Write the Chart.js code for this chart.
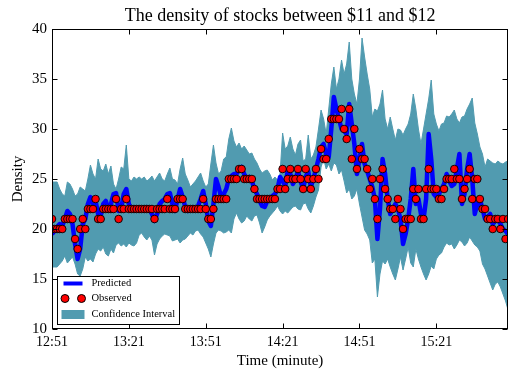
<!DOCTYPE html>
<html>
<head>
<meta charset="utf-8">
<script src="https://cdn.jsdelivr.net/npm/chart.js@4/dist/chart.umd.min.js"></script>
<style>
  html, body { margin: 0; padding: 0; background: #fff; }
  #wrap { width: 513px; height: 374px; position: relative; }
</style>
</head>
<body>
<div id="wrap"><canvas id="chart" width="513" height="374"></canvas></div>
<script>
// Minutes after 12:51 at which the x-axis carries a labelled tick
const xTickMinutes = [0, 30, 60, 90, 120, 150];
const xTickLabels = ['12:51', '13:21', '13:51', '14:21', '14:51', '15:21'];
const yTicks = [10, 15, 20, 25, 30, 35, 40];
const chartTitle = 'The density of stocks between $11 and $12';

// Observed density, one value per minute from 12:51
const observed = [
  21,20,20,20,20,21,21,21,21,19,
  18,20,21,20,22,22,22,23,21,21,
  22,22,22,22,22,23,21,22,22,23,
  22,22,22,22,22,22,22,22,22,22,
  21,22,22,22,22,23,22,22,22,23,
  23,23,22,22,22,22,22,22,22,23,
  22,21,21,22,23,23,23,23,23,25,
  25,25,25,26,26,25,25,25,25,24,
  23,23,23,23,23,23,23,23,24,24,
  26,24,25,26,25,25,26,25,24,26,
  25,24,25,26,25,28,27,27,29,31,
  31,31,31,32,30,29,32,27,30,26,
  28,27,27,26,24,25,23,21,25,26,
  24,23,22,22,21,23,22,20,21,21,
  21,24,23,24,21,21,24,26,24,24,
  24,23,23,24,25,25,25,26,25,25,
  23,24,25,26,23,25,25,23,22,22,
  21,21,20,21,21,20,21,19,21
];

// Model prediction
const predicted = [
  19.5,19.8,20.2,20.5,20.3,21.0,21.8,21.5,20.5,18.5,
  17.0,18.0,20.5,21.0,22.5,23.2,22.5,22.8,21.5,21.3,
  22.5,22.8,22.0,22.5,23.5,23.6,21.8,22.0,23.5,24.0,
  22.5,22.0,22.0,22.0,22.0,22.0,22.0,22.2,22.0,21.5,
  20.8,21.5,22.5,22.8,23.0,23.5,23.6,22.5,21.8,23.0,
  24.0,23.2,22.2,21.8,22.0,22.2,22.0,22.3,23.0,23.8,
  22.5,20.8,20.3,22.5,25.0,24.2,23.2,23.5,24.0,25.0,
  25.3,25.5,25.5,26.0,26.2,25.5,25.0,25.2,24.8,24.0,
  23.5,22.8,22.3,22.2,22.8,23.0,23.3,23.5,24.0,25.2,
  24.8,24.3,25.8,25.5,24.5,25.0,25.8,24.8,24.0,25.2,
  25.8,24.2,25.0,26.0,27.0,28.2,28.5,27.5,27.2,30.0,
  33.2,32.0,31.0,30.0,29.8,29.5,32.5,30.5,28.5,25.5,
  27.0,28.5,26.5,25.8,25.0,24.2,23.0,19.0,22.0,27.0,
  25.5,23.0,21.5,22.0,22.5,22.0,21.0,18.5,19.5,21.0,
  23.0,26.0,22.5,23.0,21.5,21.0,23.0,29.5,27.0,23.5,
  23.2,23.5,24.0,24.5,25.5,24.8,24.3,24.5,26.0,27.5,
  22.5,23.5,26.0,27.5,25.0,21.5,22.5,23.0,22.0,21.0,
  21.2,21.5,20.5,20.8,21.0,20.5,20.0,19.8,19.5
];

// Confidence interval bounds
const ciUpper = [
  24.7,24.7,24.7,24.0,23.5,23.3,24.7,24.5,24.0,23.3,
  23.5,24.2,24.0,23.8,25.0,26.4,25.5,25.0,27.0,26.0,
  25.8,26.5,25.5,26.3,24.5,24.0,25.0,26.2,26.0,28.4,
  25.0,24.8,25.2,25.0,25.2,25.0,25.2,24.8,25.0,25.3,
  24.8,25.2,25.6,25.0,24.8,25.5,26.1,25.0,24.9,24.5,
  26.0,27.1,25.5,24.9,24.2,24.5,24.8,25.2,25.6,24.8,
  24.2,24.5,26.5,28.4,26.6,25.5,25.8,27.0,27.2,29.0,
  30.1,28.8,28.2,28.6,28.0,28.3,27.9,27.5,27.6,27.0,
  26.6,26.0,25.6,25.8,25.9,25.5,24.9,25.2,24.9,25.5,
  29.6,28.0,28.3,29.2,28.0,27.4,28.5,28.9,26.8,27.0,
  29.4,27.0,27.4,28.2,30.0,31.9,31.0,29.5,32.0,34.5,
  36.2,34.0,35.0,36.9,35.5,36.5,38.7,35.0,33.5,32.5,
  35.0,39.1,37.2,35.5,34.0,31.2,32.0,31.8,32.5,33.9,
  31.0,30.0,31.2,30.0,28.9,30.0,29.9,29.4,30.0,30.5,
  31.5,33.5,32.0,30.0,28.5,30.0,31.5,33.0,34.9,31.5,
  30.5,29.8,30.5,30.6,31.3,31.2,31.5,31.9,31.0,30.6,
  31.2,31.3,32.0,32.5,33.1,30.6,29.5,28.2,27.5,26.2,
  27.0,26.8,26.6,26.5,26.8,26.6,26.5,26.7,26.8
];
const ciLower = [
  16.2,16.2,16.2,16.5,16.8,17.3,16.6,16.9,17.2,16.5,
  15.5,15.3,16.0,17.2,16.8,17.0,16.7,17.5,18.0,17.8,
  18.2,17.5,17.3,18.0,17.6,18.4,18.6,18.3,18.5,18.2,
  18.6,18.4,18.3,18.6,19.4,19.6,19.2,18.9,19.3,18.9,
  17.4,18.5,19.0,19.3,19.5,19.4,19.3,18.8,18.9,19.0,
  18.6,18.9,19.0,19.3,19.6,19.4,19.8,19.9,19.5,19.2,
  18.6,18.0,17.2,18.5,19.6,19.9,19.8,19.6,19.7,19.9,
  19.6,21.0,21.6,21.0,20.6,20.8,21.3,21.0,20.8,21.3,
  21.4,20.6,19.6,20.2,20.9,21.3,21.6,21.9,22.3,21.8,
  21.5,21.8,21.6,21.9,22.2,22.3,22.0,21.9,22.5,22.6,
  22.0,21.6,22.3,23.2,23.9,26.2,27.0,26.0,26.5,25.8,
  26.6,26.4,25.5,25.9,24.8,23.6,24.0,23.0,23.3,24.0,
  22.5,21.2,19.9,19.5,18.9,16.6,17.0,13.2,15.5,16.8,
  16.5,17.0,16.2,15.5,14.9,16.0,17.2,15.9,17.0,18.2,
  16.6,16.2,18.0,17.0,16.2,15.5,14.9,15.5,16.3,16.0,
  17.0,17.4,17.6,18.2,18.6,18.4,18.5,18.0,18.4,18.9,
  18.7,18.3,18.6,19.2,18.8,18.4,18.2,17.8,16.5,16.0,
  15.3,14.6,13.9,14.5,14.7,14.2,13.5,12.8,11.9
];

const SERIF = '"Liberation Serif", "DejaVu Serif", "Times New Roman", serif';
const CI_COLOR = '#519bb0';
const toXY = arr => arr.map((v, i) => ({ x: i, y: v }));

// Title centred over the plotting area
const plotTitlePlugin = {
  id: 'plotTitle',
  afterDraw(chart) {
    const { ctx, chartArea } = chart;
    ctx.save();
    ctx.font = '18px ' + SERIF;
    ctx.fillStyle = '#000';
    ctx.textAlign = 'center';
    ctx.textBaseline = 'alphabetic';
    ctx.fillText(chartTitle, (chartArea.left + chartArea.right) / 2, chartArea.top - 8);
    ctx.restore();
  }
};

// Frame with inward-pointing ticks on all four sides
const framePlugin = {
  id: 'frame',
  afterDatasetsDraw(chart) {
    const { ctx, chartArea, scales } = chart;
    const L = Math.round(chartArea.left) + 0.5, R = Math.round(chartArea.right) - 0.5;
    const T = Math.round(chartArea.top) + 0.5, B = Math.round(chartArea.bottom) - 0.5;
    const len = 5;
    ctx.save();
    ctx.strokeStyle = '#000';
    ctx.lineWidth = 1;
    ctx.beginPath();
    xTickMinutes.forEach(m => {
      const px = Math.round(scales.x.getPixelForValue(m)) + 0.5;
      ctx.moveTo(px, B); ctx.lineTo(px, B - len);
      ctx.moveTo(px, T); ctx.lineTo(px, T + len);
    });
    yTicks.forEach(v => {
      const py = Math.round(scales.y.getPixelForValue(v)) + 0.5;
      ctx.moveTo(L, py); ctx.lineTo(L + len, py);
      ctx.moveTo(R, py); ctx.lineTo(R - len, py);
    });
    ctx.stroke();
    ctx.strokeRect(L, T, R - L, B - T);
    ctx.restore();
  }
};

// Boxed legend in the lower-left corner of the plot
const boxLegendPlugin = {
  id: 'boxLegend',
  afterDraw(chart) {
    const { ctx, chartArea } = chart;
    const ds = chart.data.datasets;
    const x0 = Math.round(chartArea.left) + 5.5;
    const y0 = Math.round(chartArea.bottom) - 52.5;
    const w = 122, h = 48;
    ctx.save();
    ctx.fillStyle = '#fff';
    ctx.fillRect(x0, y0, w, h);
    ctx.strokeStyle = '#000';
    ctx.lineWidth = 1;
    ctx.strokeRect(x0, y0, w, h);

    ctx.font = '10.5px ' + SERIF;
    ctx.fillStyle = '#000';
    ctx.textBaseline = 'middle';
    ctx.textAlign = 'left';
    const textX = x0 + 34;

    // Predicted
    const pred = ds[1];
    let cy = y0 + 7;
    ctx.strokeStyle = pred.borderColor;
    ctx.lineWidth = 4;
    ctx.beginPath(); ctx.moveTo(x0 + 6, cy); ctx.lineTo(x0 + 25, cy); ctx.stroke();
    ctx.fillText(pred.label, textX, cy);

    // Observed
    const obs = ds[0];
    cy = y0 + 22;
    [x0 + 7.5, x0 + 24].forEach(cx => {
      ctx.beginPath();
      ctx.arc(cx, cy, 4, 0, Math.PI * 2);
      ctx.fillStyle = obs.backgroundColor; ctx.fill();
      ctx.strokeStyle = obs.borderColor; ctx.lineWidth = 1; ctx.stroke();
    });
    ctx.fillStyle = '#000';
    ctx.fillText(obs.label, textX, cy);

    // Confidence interval
    const ci = ds[2];
    cy = y0 + 38;
    ctx.fillStyle = ci.backgroundColor;
    ctx.fillRect(x0 + 4, cy - 4.5, 23, 9);
    ctx.fillStyle = '#000';
    ctx.fillText(ci.label, textX, cy);
    ctx.restore();
  }
};

new Chart(document.getElementById('chart'), {
  type: 'line',
  data: {
    datasets: [
      {
        label: 'Observed',
        data: toXY(observed),
        showLine: false,
        pointRadius: 3.8,
        pointBackgroundColor: '#ff0000',
        backgroundColor: '#ff0000',
        borderColor: '#000',
        pointBorderColor: '#000',
        pointBorderWidth: 0.9,
        order: 0
      },
      {
        label: 'Predicted',
        data: toXY(predicted),
        borderColor: '#0000ff',
        borderWidth: 4.5,
        pointRadius: 0,
        tension: 0,
        fill: false,
        borderJoinStyle: 'round',
        order: 1
      },
      {
        label: 'Confidence Interval',
        data: toXY(ciUpper),
        borderColor: CI_COLOR,
        backgroundColor: CI_COLOR,
        borderWidth: 1,
        pointRadius: 0,
        tension: 0,
        fill: '+1',
        order: 2
      },
      {
        label: 'CI lower',
        data: toXY(ciLower),
        borderColor: CI_COLOR,
        borderWidth: 1,
        pointRadius: 0,
        tension: 0,
        fill: false,
        order: 3
      }
    ]
  },
  options: {
    responsive: false,
    animation: false,
    events: [],
    layout: { padding: { left: 0, right: 1, top: 29, bottom: 0 } },
    plugins: {
      legend: { display: false },
      tooltip: { enabled: false },
      title: { display: false }
    },
    scales: {
      x: {
        type: 'linear',
        min: 0,
        max: observed.length - 1,
        grid: { display: false, drawTicks: false },
        border: { display: false },
        afterBuildTicks: scale => { scale.ticks = xTickMinutes.map(v => ({ value: v })); },
        afterFit: scale => { scale.height = 45; },
        ticks: {
          color: '#000',
          padding: 5,
          maxRotation: 0,
          autoSkip: false,
          font: { family: SERIF, size: 14 },
          callback: v => xTickLabels[xTickMinutes.indexOf(v)]
        },
        title: {
          display: true,
          text: 'Time (minute)',
          color: '#000',
          font: { family: SERIF, size: 15 },
          padding: { top: 0, bottom: 4 }
        }
      },
      y: {
        min: 10,
        max: 40,
        grid: { display: false, drawTicks: false },
        border: { display: false },
        afterBuildTicks: scale => { scale.ticks = yTicks.map(v => ({ value: v })); },
        afterFit: scale => { scale.width = 52; },
        ticks: {
          color: '#000',
          padding: 5,
          font: { family: SERIF, size: 15 }
        },
        title: {
          display: true,
          text: 'Density',
          color: '#000',
          font: { family: SERIF, size: 15 },
          padding: { top: 9, bottom: 0 }
        }
      }
    }
  },
  plugins: [plotTitlePlugin, framePlugin, boxLegendPlugin]
});
</script>
</body>
</html>
